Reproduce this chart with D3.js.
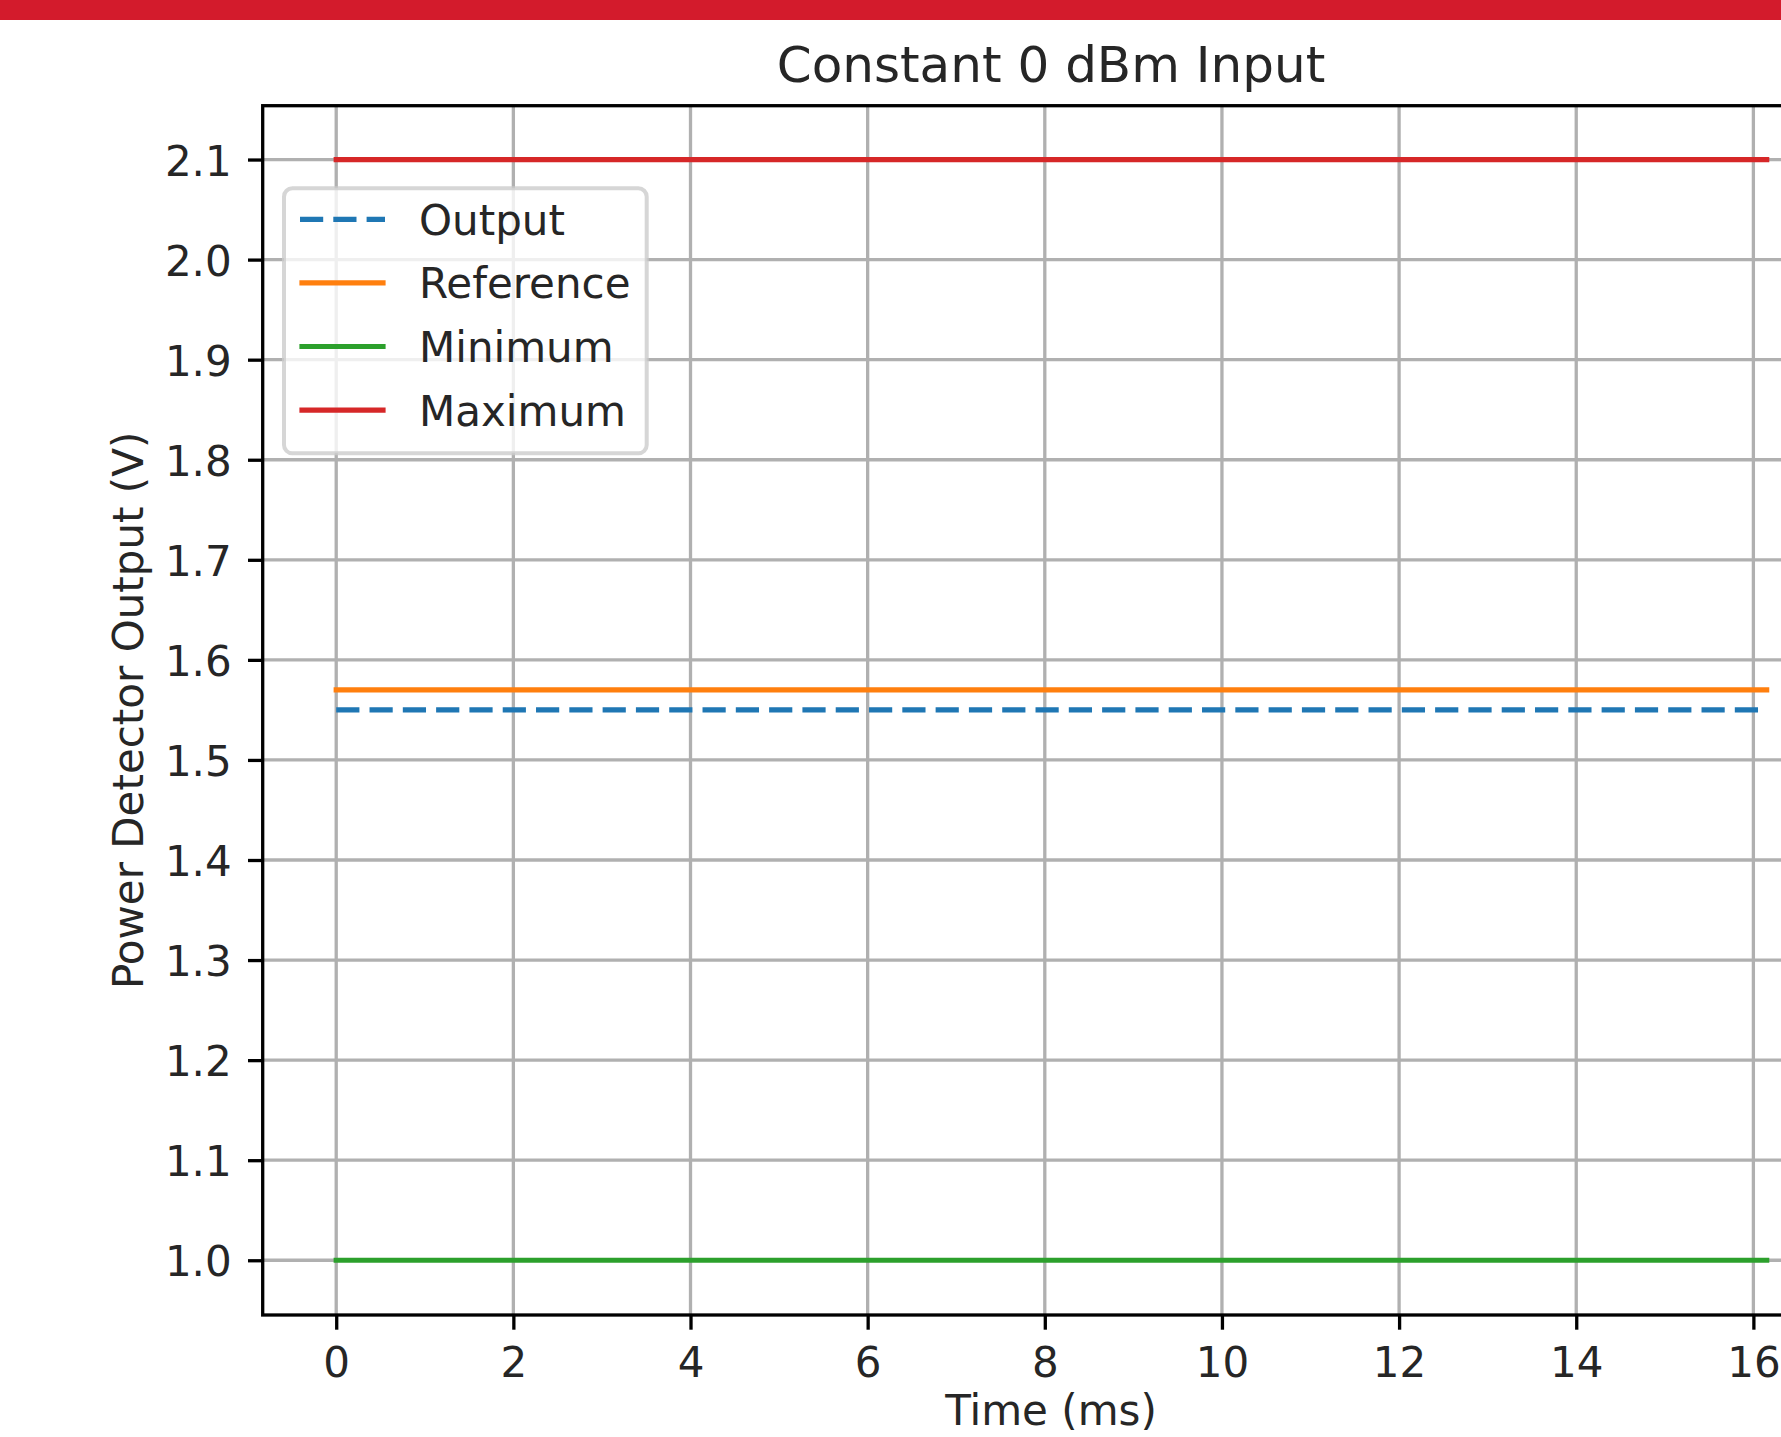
<!DOCTYPE html>
<html>
<head>
<meta charset="utf-8">
<script src="https://cdn.jsdelivr.net/npm/d3@7"></script>
<style>
  html, body { margin: 0; padding: 0; background: #ffffff; }
  svg { display: block; }
  text { font-family: "DejaVu Sans", sans-serif; fill: #262626; }
</style>
</head>
<body>
<svg id="chart" width="1781" height="1437"></svg>
<script>
// Time base (ms) and the four detector traces (V)
const timeMs     = [0, 16.15];
const outputV    = [1.55, 1.55];
const referenceV = [1.57, 1.57];
const minimumV   = [1.0, 1.0];
const maximumV   = [2.1, 2.1];

const seriesNames = ["Output", "Reference", "Minimum", "Maximum"];

// Axis ticks and limits
const xTicks = [0, 2, 4, 6, 8, 10, 12, 14, 16];
const xTickLabels = ["0", "2", "4", "6", "8", "10", "12", "14", "16"];
const yTicks = [1.0, 1.1, 1.2, 1.3, 1.4, 1.5, 1.6, 1.7, 1.8, 1.9, 2.0, 2.1];
const yTickLabels = ["1.0", "1.1", "1.2", "1.3", "1.4", "1.5", "1.6", "1.7", "1.8", "1.9", "2.0", "2.1"];
const xLim = [-0.83, 16.97];
const yLim = [0.9453, 2.1538];

const titleText = "Constant 0 dBm Input";
const xLabelText = "Time (ms)";
const yLabelText = "Power Detector Output (V)";

// Layout
const W = 1781, H = 1437;
const box = { left: 262.7, right: 1839.3, top: 105.7, bottom: 1315 };
const fontPx = 42;
const lw = 5.2;
const thin = 3.3;
const tickLen = 14.7;

const colors = { Output: "#1f77b4", Reference: "#ff7f0e", Minimum: "#2ca02c", Maximum: "#d62728" };
const dash = "23.2,10.1";

const svg = d3.select("#chart");

// Banner strip across the top of the page
svg.append("rect").attr("x", 0).attr("y", 0).attr("width", W).attr("height", 20)
  .attr("fill", "#d31b2c");

const x = d3.scaleLinear().domain(xLim).range([box.left, box.right]);
const y = d3.scaleLinear().domain(yLim).range([box.bottom, box.top]);

// Grid
const grid = svg.append("g");
grid.selectAll(".gx").data(xTicks).join("line")
  .attr("x1", d => x(d)).attr("x2", d => x(d))
  .attr("y1", box.top).attr("y2", box.bottom)
  .attr("stroke", "#b0b0b0").attr("stroke-width", thin);
grid.selectAll(".gy").data(yTicks).join("line")
  .attr("x1", box.left).attr("x2", box.right)
  .attr("y1", d => y(d)).attr("y2", d => y(d))
  .attr("stroke", "#b0b0b0").attr("stroke-width", thin);

// Traces
const traces = [
  { name: "Output", values: outputV, dashed: true },
  { name: "Reference", values: referenceV, dashed: false },
  { name: "Minimum", values: minimumV, dashed: false },
  { name: "Maximum", values: maximumV, dashed: false }
];
const line = d3.line().x(d => x(d[0])).y(d => y(d[1]));
const plot = svg.append("g");
traces.forEach(t => {
  const pts = timeMs.map((tm, i) => [tm, t.values[i]]);
  plot.append("path")
    .attr("d", line(pts))
    .attr("fill", "none")
    .attr("stroke", colors[t.name])
    .attr("stroke-width", lw)
    .attr("stroke-linecap", t.dashed ? "butt" : "square")
    .attr("stroke-dasharray", t.dashed ? dash : null);
});

// Axes
const xAxis = d3.axisBottom(x).tickValues(xTicks)
  .tickFormat((d, i) => xTickLabels[i])
  .tickSizeInner(tickLen).tickSizeOuter(0).tickPadding(17.5);
const gx = svg.append("g").attr("transform", `translate(0,${box.bottom})`).call(xAxis);
gx.select(".domain").remove();
gx.selectAll(".tick line").attr("stroke", "#000").attr("stroke-width", thin);
gx.selectAll(".tick text").attr("font-size", fontPx).attr("fill", "#262626")
  .attr("font-family", "DejaVu Sans, sans-serif");

const yAxis = d3.axisLeft(y).tickValues(yTicks)
  .tickFormat((d, i) => yTickLabels[i])
  .tickSizeInner(tickLen).tickSizeOuter(0).tickPadding(16.3);
const gy = svg.append("g").attr("transform", `translate(${box.left},0)`).call(yAxis);
gy.select(".domain").remove();
gy.selectAll(".tick line").attr("stroke", "#000").attr("stroke-width", thin);
gy.selectAll(".tick text").attr("font-size", fontPx).attr("fill", "#262626")
  .attr("dy", "0.37em").attr("font-family", "DejaVu Sans, sans-serif");

// Frame
svg.append("rect")
  .attr("x", box.left).attr("y", box.top)
  .attr("width", box.right - box.left).attr("height", box.bottom - box.top)
  .attr("fill", "none").attr("stroke", "#000").attr("stroke-width", thin)
  .attr("stroke-linejoin", "miter");

// Titles
const cx = (box.left + box.right) / 2;
svg.append("text").attr("x", cx).attr("y", 82)
  .attr("text-anchor", "middle").attr("font-size", 50).text(titleText);
svg.append("text").attr("x", cx).attr("y", 1425)
  .attr("text-anchor", "middle").attr("font-size", fontPx).text(xLabelText);
svg.append("text")
  .attr("transform", `translate(142.7,${(box.top + box.bottom) / 2}) rotate(-90)`)
  .attr("text-anchor", "middle").attr("font-size", fontPx).text(yLabelText);

// Legend
const leg = { x: 284, y: 188.3, w: 362.7, h: 265, row0: 219.3, rowStep: 63.6,
              hx1: 300, hx2: 385, tx: 419 };
const lg = svg.append("g");
lg.append("rect")
  .attr("x", leg.x).attr("y", leg.y).attr("width", leg.w).attr("height", leg.h)
  .attr("rx", 8.4).attr("ry", 8.4)
  .attr("fill", "#ffffff").attr("fill-opacity", 0.8)
  .attr("stroke", "#cccccc").attr("stroke-opacity", 0.8).attr("stroke-width", 4);
seriesNames.forEach((name, i) => {
  const ry = leg.row0 + i * leg.rowStep;
  const dashed = traces[i].dashed;
  lg.append("line")
    .attr("x1", dashed ? leg.hx1 : leg.hx1 + 2).attr("x2", dashed ? leg.hx2 : leg.hx2 - 2)
    .attr("y1", ry).attr("y2", ry)
    .attr("stroke", colors[name]).attr("stroke-width", lw)
    .attr("stroke-linecap", dashed ? "butt" : "square")
    .attr("stroke-dasharray", dashed ? dash : null);
  lg.append("text").attr("x", leg.tx).attr("y", ry + 15.5)
    .attr("font-size", fontPx).text(name);
});
</script>
</body>
</html>
